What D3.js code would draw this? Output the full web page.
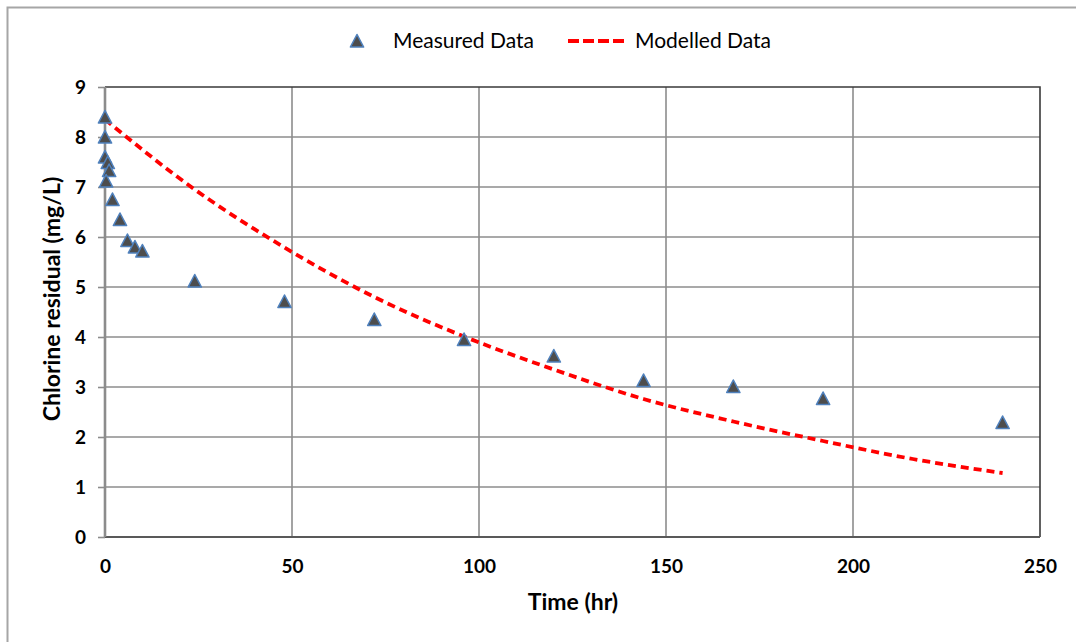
<!DOCTYPE html>
<html>
<head>
<meta charset="utf-8">
<script src="https://cdn.jsdelivr.net/npm/d3@7"></script>
<style>
  html, body { margin: 0; padding: 0; background: #fff; }
  svg { display: block; }
  text { font-family: Lato, "Open Sans", sans-serif; fill: #000; }
</style>
</head>
<body>
<svg id="chart" width="1076" height="642"></svg>
<script>
// ---- data ----
const measuredTime = [0, 0, 0, 0.75, 1.1, 0.3, 2, 4, 6, 8, 10, 24, 48, 72, 96, 120, 144, 168, 192, 240];
const measuredCl   = [8.4, 8.0, 7.6, 7.49, 7.33, 7.12, 6.75, 6.35, 5.93, 5.8, 5.72, 5.12, 4.71, 4.35, 3.95, 3.62, 3.13, 3.01, 2.77, 2.29];
const modelTime = [0, 24, 48, 72, 96, 120, 144, 168, 192, 216, 240];
const modelCl   = [8.35, 6.95, 5.79, 4.8, 4.01, 3.35, 2.76, 2.31, 1.92, 1.56, 1.28];
const xTicks = [0, 50, 100, 150, 200, 250];
const yTicks = [0, 1, 2, 3, 4, 5, 6, 7, 8, 9];
const seriesNames = ["Measured Data", "Modelled Data"];
const xTitle = "Time (hr)";
const yTitle = "Chlorine residual (mg/L)";

// ---- layout ----
const svg = d3.select("#chart");
const L = 105, R = 1040, T = 87, B = 537;
const x = d3.scaleLinear().domain([0, 250]).range([L, R]);
const y = d3.scaleLinear().domain([0, 9]).range([B, T]);

// outer border
svg.append("path")
  .attr("d", "M7.5,642 L7.5,7.5 L1076,7.5")
  .attr("fill", "none").attr("stroke", "#a6a6a6").attr("stroke-width", 2);

// grid
const grid = svg.append("g");
grid.selectAll(".hg").data(yTicks.filter(d => d > 0 && d < 9)).join("line")
  .attr("x1", L).attr("x2", R).attr("y1", d => y(d)).attr("y2", d => y(d))
  .attr("stroke", "#8c8c8c").attr("stroke-width", 1.6);
grid.selectAll(".vg").data(xTicks.filter(d => d > 0 && d < 250)).join("line")
  .attr("y1", T).attr("y2", B).attr("x1", d => x(d)).attr("x2", d => x(d))
  .attr("stroke", "#8c8c8c").attr("stroke-width", 1.6);

// frame top/right
svg.append("path")
  .attr("d", `M${L},${T} L${R},${T} L${R},${B}`)
  .attr("fill", "none").attr("stroke", "#3a3a3a").attr("stroke-width", 1.6);

// y axis
const yAxis = svg.append("g").attr("transform", `translate(${L},0)`)
  .call(d3.axisLeft(y).tickValues(yTicks).tickSize(7).tickPadding(12).tickFormat(d3.format("d")));
yAxis.select(".domain").remove();
yAxis.selectAll(".tick line").attr("stroke", "#8c8c8c").attr("stroke-width", 1.6);
yAxis.selectAll("text").style("font-size", "19px").style("font-weight", "bold").attr("fill", "#000");

// x axis
const xAxis = svg.append("g").attr("transform", `translate(0,${B})`)
  .call(d3.axisBottom(x).tickValues(xTicks).tickSize(0).tickPadding(23).tickFormat(d3.format("d")));
xAxis.select(".domain").remove();
xAxis.selectAll("text").style("font-size", "19px").style("font-weight", "bold").attr("fill", "#000");

// axis lines
svg.append("line").attr("x1", L).attr("x2", R).attr("y1", B).attr("y2", B)
  .attr("stroke", "#595959").attr("stroke-width", 1.8);
svg.append("line").attr("x1", L).attr("x2", L).attr("y1", T).attr("y2", B)
  .attr("stroke", "#8c8c8c").attr("stroke-width", 2.6);

// model line
const modelData = modelTime.map((t, i) => ({t, v: modelCl[i]}));
svg.append("path").datum(modelData)
  .attr("d", d3.line().x(d => x(d.t)).y(d => y(d.v)).curve(d3.curveMonotoneX))
  .attr("fill", "none").attr("stroke", "#ff0000").attr("stroke-width", 3.8)
  .attr("stroke-dasharray", "8,5");

// markers (triangle centred on its bounding box, like a spreadsheet marker)
const triPath = "M0,-6.5 L6.6,6 L-6.6,6 Z";
const measData = measuredTime.map((t, i) => ({t, v: measuredCl[i]}));
svg.append("g").selectAll("path").data(measData).join("path")
  .attr("d", triPath)
  .attr("transform", d => `translate(${x(d.t)},${y(d.v)})`)
  .attr("fill", "#4d4d4d").attr("stroke", "#4f81bd").attr("stroke-width", 1.6)
  .attr("stroke-linejoin", "round");

// axis titles
svg.append("text").attr("x", 573).attr("y", 610).attr("text-anchor", "middle")
  .style("font-size", "23px").style("font-weight", "bold").text(xTitle);
svg.append("text").attr("transform", "translate(60,299) rotate(-90)").attr("text-anchor", "middle")
  .style("font-size", "23px").style("font-weight", "bold").text(yTitle);

// legend
const lg = svg.append("g");
lg.append("path").attr("d", triPath).attr("transform", "translate(357,41)")
  .attr("fill", "#4d4d4d").attr("stroke", "#4f81bd").attr("stroke-width", 1.6)
  .attr("stroke-linejoin", "round");
lg.append("text").attr("x", 393).attr("y", 48).style("font-size", "21px").text(seriesNames[0]);
lg.append("line").attr("x1", 568).attr("x2", 626).attr("y1", 41).attr("y2", 41)
  .attr("stroke", "#ff0000").attr("stroke-width", 3.8).attr("stroke-dasharray", "11,4");
lg.append("text").attr("x", 635).attr("y", 48).style("font-size", "21px").text(seriesNames[1]);
</script>
</body>
</html>
